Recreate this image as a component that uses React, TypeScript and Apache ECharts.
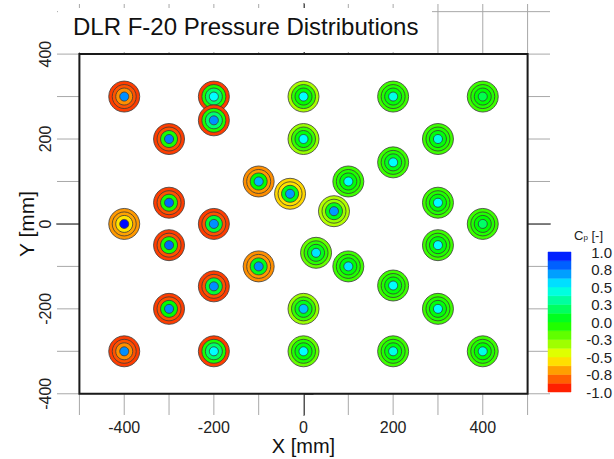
import React, { useEffect, useRef } from "react";
import * as echarts from "echarts";

// Pressure-tap locations [mm]
const tapX = [-400, -200, 0, 200, 400, -200, -300, 0, 300, 200, -100, -30, 100, 68, -300, 300, -400, -200, 400, -300, 300, 28, 100, -100, -200, 200, -300, 0, 300, -400, -200, 0, 200, 400];
const tapY = [300, 300, 300, 300, 300, 244, 200, 200, 200, 145, 100, 71, 100, 30, 50, 50, 0, 0, 0, -50, -50, -68, -100, -100, -147, -145, -200, -200, -200, -300, -300, -300, -300, -300];
// Cp on the contour rings, from the outside in
const cpOuter = [-0.88, -0.88, -0.33, -0.12, -0.12, -0.88, -0.88, -0.3, -0.12, -0.12, -0.72, -0.58, -0.12, -0.35, -0.88, -0.12, -0.7, -0.88, -0.12, -0.88, -0.12, -0.2, -0.12, -0.72, -0.88, -0.12, -0.88, -0.3, -0.12, -0.88, -0.88, -0.2, -0.12, -0.12];
const cpRing1 = [-0.84, -0.05, -0.08, -0.06, -0.06, -0.05, -0.84, -0.1, -0.06, -0.06, -0.7, -0.56, -0.06, -0.3, -0.84, -0.06, -0.68, -0.84, -0.06, -0.84, -0.06, -0.08, -0.06, -0.7, -0.84, -0.06, -0.84, -0.1, -0.06, -0.84, -0.05, -0.06, -0.06, -0.06];
const cpRing2 = [-0.72, 0.2, 0.0, 0.02, 0.0, 0.22, -0.05, 0.02, 0.02, 0.05, 0.0, 0.05, 0.02, 0.05, -0.05, 0.02, -0.55, 0.1, 0.0, -0.05, 0.02, 0.05, 0.02, 0.05, 0.1, 0.02, 0.0, 0.05, 0.02, -0.72, 0.2, 0.02, 0.02, 0.0];
const cpCenter = [0.72, 0.5, 0.5, 0.45, 0.15, 0.72, 0.75, 0.5, 0.45, 0.5, 0.65, 0.7, 0.5, 0.7, 0.8, 0.5, 0.98, 0.72, 0.2, 0.8, 0.5, 0.55, 0.55, 0.72, 0.72, 0.5, 0.72, 0.62, 0.5, 0.72, 0.5, 0.5, 0.45, 0.45];

const xTicks = [-400, -200, 0, 200, 400];
const yTicks = [-400, -200, 0, 200, 400];
const gridXs = [-500, -400, -300, -200, -100, 0, 100, 200, 300, 400, 500];
const gridYs = [-400, -300, -200, -100, 0, 100, 200, 300, 400, 500];
const cpLevels = [-1, -0.875, -0.75, -0.625, -0.5, -0.375, -0.25, -0.125, 0, 0.125, 0.25, 0.375, 0.5, 0.625, 0.75, 0.875, 1];

const X_MIN = -550, X_MAX = 550, Y_MIN = -450, Y_MAX = 518;
const BOX = [-500, -400, 500, 400];
const FONT = "'Liberation Sans', Arial, sans-serif";

const anchors: [number, number[]][] = [
  [-1, [255, 0, 0]],
  [-0.5, [255, 255, 0]],
  [0, [0, 255, 0]],
  [0.5, [0, 255, 255]],
  [1, [0, 0, 255]],
];
function cpColor(v: number): string {
  const c = Math.max(-1, Math.min(1, v));
  for (let i = 0; i < anchors.length - 1; i++) {
    const [a, ca] = anchors[i];
    const [b, cb] = anchors[i + 1];
    if (c >= a && c <= b) {
      const t = (c - a) / (b - a);
      const rgb = ca.map((k, j) => Math.round(k + (cb[j] - k) * t));
      return `rgb(${rgb[0]},${rgb[1]},${rgb[2]})`;
    }
  }
  return "rgb(0,0,255)";
}

export default function App() {
  const ref = useRef<HTMLDivElement>(null);
  useEffect(() => {
    if (!ref.current) return;
    const chart = echarts.init(ref.current, null, { renderer: "svg" });
    const taps = tapX.map((x, i) => [x, tapY[i], cpOuter[i], cpRing1[i], cpRing2[i], cpCenter[i]]);
    const gridData = [...gridXs.map((v) => [v, 0]), ...gridYs.map((v) => [v, 1])];
    const bands = cpLevels.slice(0, -1).map((lo, i) => [lo, cpLevels[i + 1]]);
    const radii = [15.5, 12, 8.5, 4.5];

    chart.setOption({
      animation: false,
      backgroundColor: "#fff",
      title: {
        text: "DLR F-20 Pressure Distributions",
        left: 73,
        top: 14,
        padding: 0,
        textStyle: { fontFamily: FONT, fontSize: 24, fontWeight: "normal", color: "#111" },
        z: 6,
      },
      grid: [
        { left: 57, right: 64, top: 4, bottom: 44, outerBoundsMode: "none" },
        { left: 548, width: 23, top: 252, height: 140, outerBoundsMode: "none" },
      ],
      xAxis: [
        {
          type: "value",
          gridIndex: 0,
          min: X_MIN,
          max: X_MAX,
          axisLine: { show: true, lineStyle: { color: "#1a1a1a", width: 1.5 } },
          axisTick: { show: true, inside: true, length: 12, customValues: xTicks, lineStyle: { color: "#1a1a1a", width: 1.5 } },
          axisLabel: { customValues: xTicks, fontFamily: FONT, fontSize: 16, lineHeight: 16, color: "#222", margin: 4 },
          splitLine: { show: false },
          name: "X [mm]",
          nameLocation: "middle",
          nameGap: 21,
          nameMoveOverlap: false,
          nameTextStyle: { fontFamily: FONT, fontSize: 20, lineHeight: 20, color: "#111" },
        },
        { type: "value", gridIndex: 1, min: 0, max: 1, show: false },
      ],
      yAxis: [
        {
          type: "value",
          gridIndex: 0,
          min: Y_MIN,
          max: Y_MAX,
          axisLine: { show: true, lineStyle: { color: "#1a1a1a", width: 1.5 } },
          axisTick: { show: true, inside: true, length: 10, customValues: yTicks, lineStyle: { color: "#1a1a1a", width: 1.5 } },
          axisLabel: { customValues: yTicks, rotate: 90, fontFamily: FONT, fontSize: 16, color: "#222", margin: 4 },
          splitLine: { show: false },
        },
        {
          type: "value",
          gridIndex: 1,
          min: -1,
          max: 1,
          interval: 0.25,
          position: "right",
          axisLine: { show: false },
          axisTick: { show: false },
          splitLine: { show: false },
          axisLabel: {
            formatter: (v: number) => v.toFixed(1),
            fontFamily: FONT,
            fontSize: 15,
            color: "#222",
            align: "right",
            margin: 41,
          },
        },
      ],
      graphic: [
        { type: "rect", shape: { x: 58, y: 8, width: 374, height: 44 }, style: { fill: "#fff" }, z: 5 },
        {
          type: "text",
          x: 26,
          y: 224,
          rotation: Math.PI / 2,
          style: { text: "Y [mm]", font: `21px ${FONT}`, fill: "#111", align: "center", verticalAlign: "middle" },
          z: 6,
        },
        {
          type: "text",
          x: 574,
          y: 235,
          style: {
            text: "{c|C}{s|p}{c| [-]}",
            rich: {
              c: { fontFamily: FONT, fontSize: 13, fill: "#222" },
              s: { fontFamily: FONT, fontSize: 8, fill: "#222", verticalAlign: "bottom" },
            },
            verticalAlign: "middle",
          },
          z: 6,
        },
      ],
      series: [
        {
          type: "custom",
          xAxisIndex: 0,
          yAxisIndex: 0,
          z: 1,
          silent: true,
          data: gridData,
          renderItem: (_p: any, api: any) => {
            const v = api.value(0);
            const kind = api.value(1);
            const a = kind === 0 ? api.coord([v, Y_MIN]) : api.coord([X_MIN, v]);
            const b = kind === 0 ? api.coord([v, Y_MAX]) : api.coord([X_MAX, v]);
            return {
              type: "line",
              shape: { x1: a[0], y1: a[1], x2: b[0], y2: b[1] },
              style: { stroke: "#a8a8a8", lineWidth: 1 },
            };
          },
        },
        {
          type: "custom",
          xAxisIndex: 0,
          yAxisIndex: 0,
          z: 2,
          silent: true,
          data: [BOX],
          renderItem: (_p: any, api: any) => {
            const p0 = api.coord([api.value(0), api.value(3)]);
            const p1 = api.coord([api.value(2), api.value(1)]);
            return {
              type: "rect",
              shape: { x: p0[0], y: p0[1], width: p1[0] - p0[0], height: p1[1] - p0[1] },
              style: { fill: "#fff", stroke: "#1a1a1a", lineWidth: 2 },
            };
          },
        },
        {
          type: "custom",
          xAxisIndex: 0,
          yAxisIndex: 0,
          z: 3,
          data: taps,
          renderItem: (_p: any, api: any) => {
            const c = api.coord([api.value(0), api.value(1)]);
            return {
              type: "group",
              children: radii.map((r, i) => ({
                type: "circle",
                shape: { cx: c[0], cy: c[1], r },
                style: { fill: cpColor(api.value(2 + i)), stroke: "#3a3a3a", lineWidth: 0.8 },
              })),
            };
          },
        },
        {
          type: "custom",
          xAxisIndex: 1,
          yAxisIndex: 1,
          z: 3,
          silent: true,
          data: bands,
          renderItem: (_p: any, api: any) => {
            const lo = api.value(0);
            const hi = api.value(1);
            const p0 = api.coord([0, hi]);
            const p1 = api.coord([1, lo]);
            const col = cpColor((lo + hi) / 2);
            return {
              type: "rect",
              shape: { x: p0[0], y: p0[1], width: p1[0] - p0[0], height: p1[1] - p0[1] },
              style: { fill: col, stroke: col, lineWidth: 0.5 },
            };
          },
        },
      ],
    });
    return () => chart.dispose();
  }, []);
  return <div ref={ref} style={{ width: 614, height: 459, position: "absolute", left: 0, top: 0 }} />;
}
